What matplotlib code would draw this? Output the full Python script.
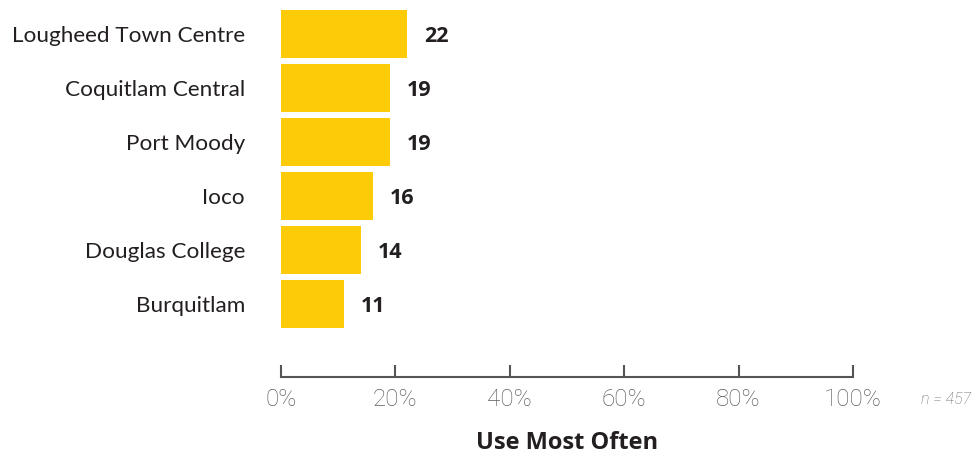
import matplotlib
matplotlib.use("Agg")
import matplotlib.pyplot as plt

categories = ["Lougheed Town Centre", "Coquitlam Central", "Port Moody", "Ioco", "Douglas College", "Burquitlam"]
values = [22, 19, 19, 16, 14, 11]
xticks = [0, 20, 40, 60, 80, 100]
xticklabels = ["0%", "20%", "40%", "60%", "80%", "100%"]
title = "Use Most Often"
note = "n = 457"

W, H = 979, 461
fig = plt.figure(figsize=(W / 100, H / 100), dpi=100)
ax = fig.add_axes([281 / W, 1 - 377 / H, (853 - 281) / W, 377 / H])

ypos = list(range(len(categories)))
ax.barh(ypos, values, height=0.9, color="#FDCB08", align="center")
ax.set_ylim(6.35, -0.63)
ax.set_xlim(0, 100)

for y, v in zip(ypos, values):
    ax.text(v + 3.0, y + 0.04, str(v), va="center", ha="left", fontsize=15.5,
            fontweight="bold", color="#231F20", family="Open Sans")

ax.set_yticks(ypos)
ax.set_yticklabels(categories, fontsize=16.2, color="#231F20", family="Lato")
ax.tick_params(axis="y", length=0, pad=26)

ax.set_xticks(xticks)
ax.set_xticklabels(xticklabels, fontsize=17.5, color="#5F5F5F", family="Roboto", fontweight="light")
ax.tick_params(axis="x", direction="in", length=8.5, width=1.5, color="#555555", pad=8)

for s in ["top", "right", "left"]:
    ax.spines[s].set_visible(False)
ax.spines["bottom"].set_color("#555555")
ax.spines["bottom"].set_linewidth(1.5)

fig.text(946 / W, 1 - 399 / H, note, ha="center", va="center", fontsize=11.5,
         style="italic", color="#6A6A6A", family="Roboto", fontweight="light")
fig.text(567 / W, 1 - 443 / H, title, ha="center", va="center", fontsize=17,
         fontweight="bold", color="#231F20", family="Open Sans")

fig.savefig("out.png", dpi=100)
